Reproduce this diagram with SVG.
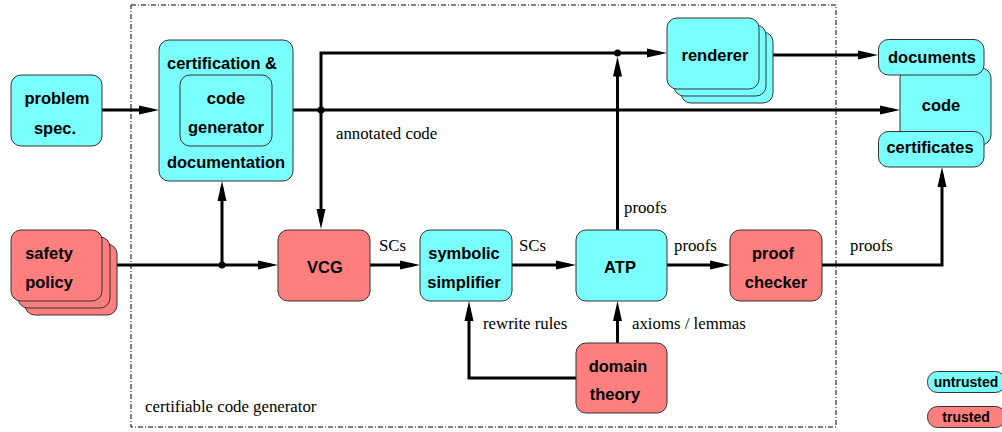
<svg xmlns="http://www.w3.org/2000/svg" width="1002" height="432" viewBox="0 0 1002 432">
<style>
.u{fill:#7affff;stroke:#333;stroke-width:1}
.t{fill:#ff7f7f;stroke:#333;stroke-width:1}
.b{font-family:"Liberation Sans",Arial,sans-serif;font-weight:bold;font-size:16.5px;fill:#000;text-anchor:middle}
.s{font-family:"Liberation Serif","Times New Roman",serif;font-size:16.8px;fill:#000}
.l{fill:none;stroke:#000;stroke-width:3}
.d{fill:#000}
</style>
<defs>
<marker id="a" markerUnits="userSpaceOnUse" markerWidth="20" markerHeight="9" refX="13" refY="4.5" orient="auto" overflow="visible">
<path d="M0,0 L20,4.5 L0,9 Z" fill="#000"/>
</marker>
</defs>
<rect x="131" y="5" width="705" height="422" fill="none" stroke="#000" stroke-width="1" stroke-dasharray="5 2 1 2"/>
<text class="s" x="145" y="412">certifiable code generator</text>

<g id="connectors">
<path class="l" d="M102,110 H152" marker-end="url(#a)"/>
<path class="l" d="M293,110 H893" marker-end="url(#a)"/>
<path class="l" d="M321,110 V53 H660" marker-end="url(#a)"/>
<path class="l" d="M321,110 V222" marker-end="url(#a)"/>
<path class="l" d="M617.5,230 V63.5" marker-end="url(#a)"/>
<path class="l" d="M759,55 H871" marker-end="url(#a)"/>
<path class="l" d="M102,265 H271" marker-end="url(#a)"/>
<path class="l" d="M222,265 V188" marker-end="url(#a)"/>
<path class="l" d="M370,265 H413" marker-end="url(#a)"/>
<path class="l" d="M512,265 H569" marker-end="url(#a)"/>
<path class="l" d="M667,265 H723" marker-end="url(#a)"/>
<path class="l" d="M822,265 H942 V174" marker-end="url(#a)"/>
<path class="l" d="M576,378 H469 V308" marker-end="url(#a)"/>
<path class="l" d="M617.5,343 V308" marker-end="url(#a)"/>
<circle class="d" cx="321" cy="110" r="3.5"/>
<circle class="d" cx="617.5" cy="53" r="3.5"/>
<circle class="d" cx="222" cy="265" r="3.5"/>
<text class="s" x="336" y="139">annotated code</text>
<text class="s" x="624" y="213">proofs</text>
<text class="s" x="379" y="251">SCs</text>
<text class="s" x="519" y="251">SCs</text>
<text class="s" x="674" y="251">proofs</text>
<text class="s" x="850" y="251">proofs</text>
<text class="s" x="483" y="329">rewrite rules</text>
<text class="s" x="632" y="329">axioms / lemmas</text>
</g>

<g id="problem-spec">
<rect class="u" x="11" y="75" width="91" height="71" rx="10"/>
<text class="b" x="57" y="104">problem</text>
<text class="b" x="55" y="134">spec.</text>
</g>

<g id="certification">
<rect class="u" x="159" y="40" width="134" height="141" rx="10"/>
<rect class="u" x="180" y="75" width="92" height="71" rx="10"/>
<text class="b" x="222" y="69">certification &amp;</text>
<text class="b" x="226" y="104">code</text>
<text class="b" x="226" y="133">generator</text>
<text class="b" x="226" y="168">documentation</text>
</g>

<g id="renderer">
<rect class="u" x="681" y="32" width="92" height="71" rx="10"/>
<rect class="u" x="674" y="25" width="92" height="71" rx="10"/>
<rect class="u" x="667" y="18" width="92" height="71" rx="10"/>
<text class="b" x="715" y="61">renderer</text>
</g>

<g id="outputs">
<rect class="u" x="900" y="68" width="91" height="77" rx="10"/>
<text class="b" x="941" y="111">code</text>
</g>
<g id="documents">
<rect class="u" x="878.5" y="39.5" width="105.5" height="35.5" rx="10"/>
<text class="b" x="932" y="63">documents</text>
</g>
<g id="certificates">
<rect class="u" x="878.5" y="131.5" width="105.5" height="35.5" rx="10"/>
<text class="b" x="930" y="153">certificates</text>
</g>

<g id="safety-policy">
<rect class="t" x="25" y="244" width="92" height="71" rx="10"/>
<rect class="t" x="18" y="237" width="92" height="71" rx="10"/>
<rect class="t" x="11" y="230" width="91" height="71" rx="10"/>
<text class="b" x="49" y="259">safety</text>
<text class="b" x="49" y="288">policy</text>
</g>

<g id="vcg">
<rect class="t" x="278" y="230" width="92" height="71" rx="10"/>
<text class="b" x="325" y="273">VCG</text>
</g>

<g id="symbolic-simplifier">
<rect class="u" x="420" y="230" width="92" height="71" rx="10"/>
<text class="b" x="464" y="259">symbolic</text>
<text class="b" x="464" y="288">simplifier</text>
</g>

<g id="atp">
<rect class="u" x="576" y="230" width="91" height="71" rx="10"/>
<text class="b" x="620" y="273">ATP</text>
</g>

<g id="proof-checker">
<rect class="t" x="730" y="230" width="92" height="71" rx="10"/>
<text class="b" x="773" y="259">proof</text>
<text class="b" x="776" y="288">checker</text>
</g>

<g id="domain-theory">
<rect class="t" x="576" y="343" width="91" height="70" rx="10"/>
<text class="b" x="618" y="372">domain</text>
<text class="b" x="615" y="400">theory</text>
</g>

<g id="legend">
<rect class="u" x="927.5" y="371.5" width="78" height="21" rx="10"/>
<text class="b" x="966" y="386.5" style="font-size:14px">untrusted</text>
<rect class="t" x="927.5" y="406.5" width="78" height="21" rx="10"/>
<text class="b" x="966" y="421.5" style="font-size:14px">trusted</text>
</g>
</svg>
